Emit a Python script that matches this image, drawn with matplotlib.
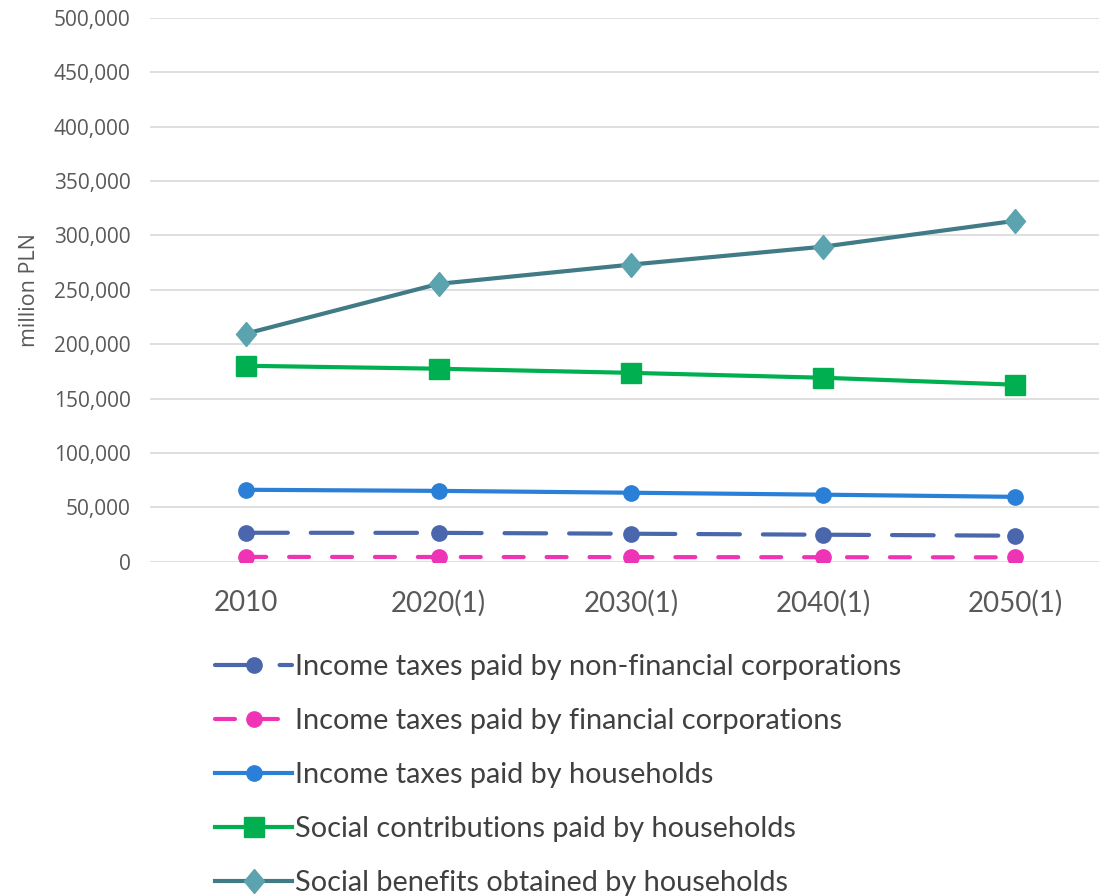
import matplotlib
matplotlib.use("Agg")
import matplotlib.pyplot as plt
from matplotlib.markers import MarkerStyle
from matplotlib.transforms import Affine2D
from matplotlib.ticker import FuncFormatter

years = ["2010", "2020(1)", "2030(1)", "2040(1)", "2050(1)"]

tax_nonfin = [26700, 26600, 25800, 24900, 24000]
tax_fin = [4500, 4400, 4300, 4200, 4100]
tax_households = [66200, 65200, 63500, 61700, 59700]
soc_contrib = [180200, 177500, 173700, 169200, 162800]
soc_benefits = [209800, 255500, 273200, 289700, 313500]

labels = [
    "Income taxes paid by non-financial corporations",
    "Income taxes paid by financial corporations",
    "Income taxes paid by households",
    "Social contributions paid by households",
    "Social benefits obtained by households",
]

plt.rcParams["font.family"] = ["Open Sans", "DejaVu Sans"]

# slightly narrow diamond
diamond = MarkerStyle("D", transform=Affine2D().scale(0.86, 1.0))

fig = plt.figure(figsize=(10.99, 8.96), dpi=100)
# plot area runs a little past the right edge of the figure
ax = fig.add_axes([0.1365, 0.373, 0.875, 0.607])

x = range(len(years))

ax.plot(x, tax_nonfin, color="#4A66AC", lw=3, ls=(0, (10, 5.5)),
        dash_capstyle="round", marker="o", ms=11, label=labels[0])
ax.plot(x, tax_fin, color="#EE33B5", lw=3, ls=(0, (4.8, 5.5)),
        dash_capstyle="round", marker="o", ms=11, label=labels[1])
ax.plot(x, tax_households, color="#2A7FD6", lw=3, marker="o", ms=11,
        label=labels[2])
ax.plot(x, soc_contrib, color="#00B050", lw=3, marker="s", ms=15,
        label=labels[3])
ax.plot(x, soc_benefits, color="#417B86", lw=3, marker=diamond, ms=12,
        mfc="#5BA3AE", mec="#5BA3AE", label=labels[4])

ax.set_xlim(-0.5, len(years) - 0.5)
ax.set_ylim(0, 500000)
ax.set_yticks(range(0, 500001, 50000))
ax.yaxis.set_major_formatter(FuncFormatter(lambda v, p: f"{int(v):,}"))
ax.set_xticks(list(x))
ax.set_xticklabels(years, fontfamily="Lato")

ax.grid(axis="y", color="#D9D9D9", lw=1.2)
ax.set_axisbelow(True)
for s in ax.spines.values():
    s.set_visible(False)
ax.tick_params(axis="both", length=0, colors="#595959")
ax.tick_params(axis="y", labelsize=15, pad=14)
ax.tick_params(axis="x", labelsize=20, pad=20)
ax.set_ylabel("million PLN", fontsize=15.5, color="#595959", labelpad=10)

fig.legend(loc="upper left", bbox_to_anchor=(0.196, 0.270), frameon=False,
           prop={"family": "Lato", "size": 20.8}, labelcolor="#404040",
           handlelength=2.65, handletextpad=0.1, labelspacing=0.97,
           borderpad=0, borderaxespad=0)

fig.savefig("out.png", dpi=100)
